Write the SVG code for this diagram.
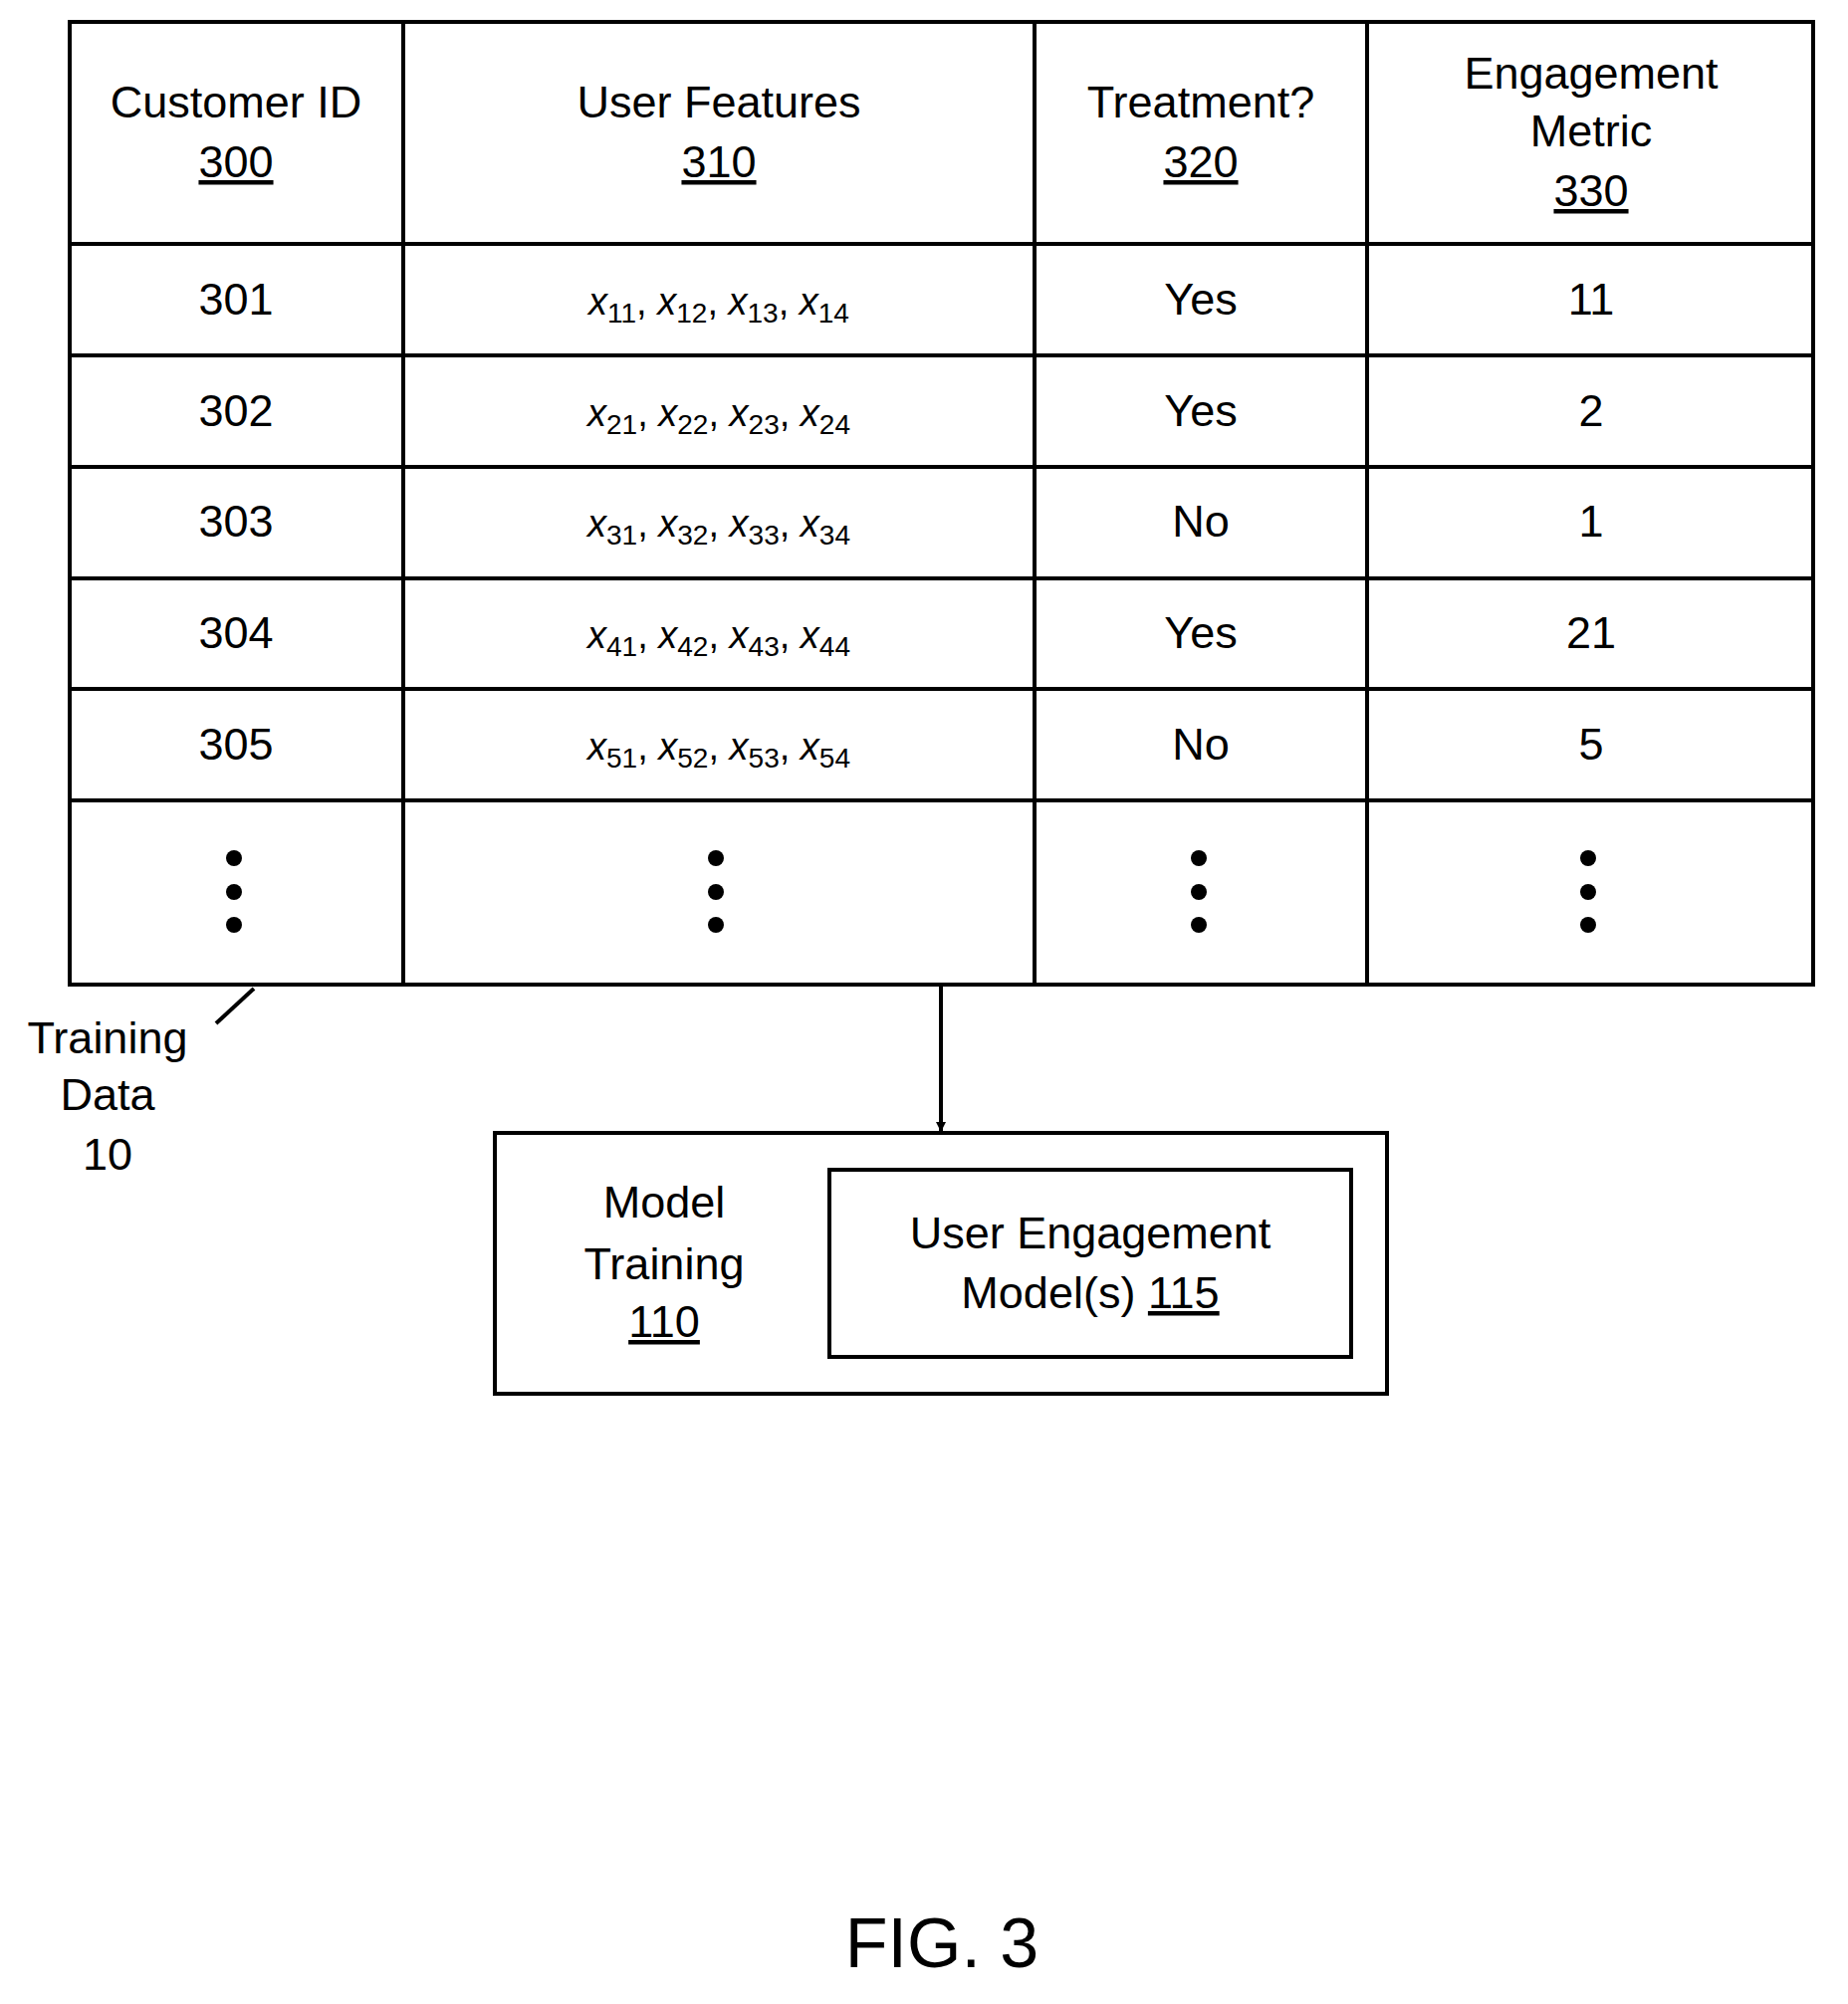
<svg xmlns="http://www.w3.org/2000/svg" width="1856" height="2013" viewBox="0 0 1856 2013">
<style>
text{font-family:"Liberation Sans",Arial,sans-serif;font-size:45px;fill:#000;text-anchor:middle}
.f{font-size:38px}
.s{font-size:28px;font-style:normal}
.u{text-decoration:underline}
.ln{stroke:#000;stroke-width:4;fill:none}
</style>
<defs><marker id="ah" markerWidth="10" markerHeight="10" refX="9" refY="5" orient="auto" markerUnits="userSpaceOnUse" viewBox="0 0 10 10"><path d="M0,0L10,5L0,10z"/></marker></defs>
<rect width="1856" height="2013" fill="#fff"/>
<g id="table">
<rect class="ln" x="70" y="22" width="1751" height="967"/>
<path class="ln" d="M405,22V989M1039,22V989M1373,22V989M70,245H1821M70,357H1821M70,469H1821M70,581H1821M70,692H1821M70,804H1821"/>
<text x="237" y="118">Customer ID</text><text x="237" y="178" class="u">300</text>
<text x="722" y="118">User Features</text><text x="722" y="178" class="u">310</text>
<text x="1206" y="118">Treatment?</text><text x="1206" y="178" class="u">320</text>
<text x="1598" y="89">Engagement</text><text x="1598" y="147">Metric</text><text x="1598" y="207" class="u">330</text>
<g id="r1"><text x="237" y="316">301</text><text x="722" y="316" class="f"><tspan font-style="italic">x</tspan><tspan class="s" dy="8">11</tspan><tspan dy="-8">, </tspan><tspan font-style="italic">x</tspan><tspan class="s" dy="8">12</tspan><tspan dy="-8">, </tspan><tspan font-style="italic">x</tspan><tspan class="s" dy="8">13</tspan><tspan dy="-8">, </tspan><tspan font-style="italic">x</tspan><tspan class="s" dy="8">14</tspan></text><text x="1206" y="316">Yes</text><text x="1598" y="316">11</text></g>
<g id="r2"><text x="237" y="428">302</text><text x="722" y="428" class="f"><tspan font-style="italic">x</tspan><tspan class="s" dy="8">21</tspan><tspan dy="-8">, </tspan><tspan font-style="italic">x</tspan><tspan class="s" dy="8">22</tspan><tspan dy="-8">, </tspan><tspan font-style="italic">x</tspan><tspan class="s" dy="8">23</tspan><tspan dy="-8">, </tspan><tspan font-style="italic">x</tspan><tspan class="s" dy="8">24</tspan></text><text x="1206" y="428">Yes</text><text x="1598" y="428">2</text></g>
<g id="r3"><text x="237" y="539">303</text><text x="722" y="539" class="f"><tspan font-style="italic">x</tspan><tspan class="s" dy="8">31</tspan><tspan dy="-8">, </tspan><tspan font-style="italic">x</tspan><tspan class="s" dy="8">32</tspan><tspan dy="-8">, </tspan><tspan font-style="italic">x</tspan><tspan class="s" dy="8">33</tspan><tspan dy="-8">, </tspan><tspan font-style="italic">x</tspan><tspan class="s" dy="8">34</tspan></text><text x="1206" y="539">No</text><text x="1598" y="539">1</text></g>
<g id="r4"><text x="237" y="651">304</text><text x="722" y="651" class="f"><tspan font-style="italic">x</tspan><tspan class="s" dy="8">41</tspan><tspan dy="-8">, </tspan><tspan font-style="italic">x</tspan><tspan class="s" dy="8">42</tspan><tspan dy="-8">, </tspan><tspan font-style="italic">x</tspan><tspan class="s" dy="8">43</tspan><tspan dy="-8">, </tspan><tspan font-style="italic">x</tspan><tspan class="s" dy="8">44</tspan></text><text x="1206" y="651">Yes</text><text x="1598" y="651">21</text></g>
<g id="r5"><text x="237" y="763">305</text><text x="722" y="763" class="f"><tspan font-style="italic">x</tspan><tspan class="s" dy="8">51</tspan><tspan dy="-8">, </tspan><tspan font-style="italic">x</tspan><tspan class="s" dy="8">52</tspan><tspan dy="-8">, </tspan><tspan font-style="italic">x</tspan><tspan class="s" dy="8">53</tspan><tspan dy="-8">, </tspan><tspan font-style="italic">x</tspan><tspan class="s" dy="8">54</tspan></text><text x="1206" y="763">No</text><text x="1598" y="763">5</text></g>
<g id="dots">
<circle cx="235" cy="862" r="8"/><circle cx="235" cy="896" r="8"/><circle cx="235" cy="929" r="8"/>
<circle cx="719" cy="862" r="8"/><circle cx="719" cy="896" r="8"/><circle cx="719" cy="929" r="8"/>
<circle cx="1204" cy="862" r="8"/><circle cx="1204" cy="896" r="8"/><circle cx="1204" cy="929" r="8"/>
<circle cx="1595" cy="862" r="8"/><circle cx="1595" cy="896" r="8"/><circle cx="1595" cy="929" r="8"/>
</g>
</g>
<g id="label">
<text x="108" y="1058">Training</text><text x="108" y="1115">Data</text><text x="108" y="1175">10</text>
</g>
<g id="model">
<rect class="ln" x="497" y="1138" width="896" height="262"/>
<text x="667" y="1223">Model</text><text x="667" y="1285">Training</text><text x="667" y="1343" class="u">110</text>
</g>
<g id="uem">
<rect class="ln" x="833" y="1175" width="524" height="188"/>
<text x="1095" y="1254">User Engagement</text><text x="1095" y="1314">Model(s) <tspan class="u">115</tspan></text>
</g>
<g id="connectors">
<path class="ln" d="M217,1028L255,993"/>
<path class="ln" d="M945,989V1136" marker-end="url(#ah)"/>
</g>
<text x="946" y="1976" style="font-size:70px">FIG. 3</text>
</svg>
